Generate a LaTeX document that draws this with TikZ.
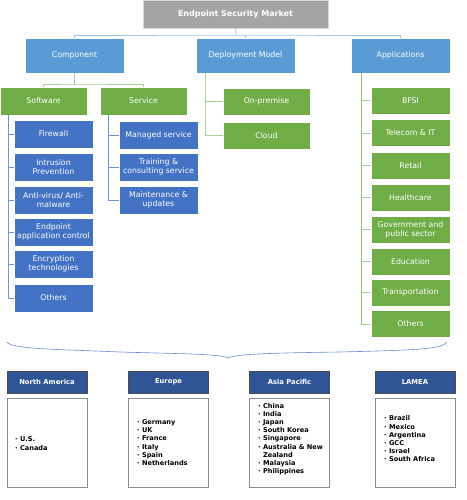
\documentclass[tikz,border=0pt]{standalone}
\usepackage{fontspec}
\newfontfamily\dv{DejaVu Sans}
\definecolor{lblue}{HTML}{5B9BD5}
\definecolor{mblue}{HTML}{4472C4}
\definecolor{dblue}{HTML}{2F5597}
\definecolor{gfill}{HTML}{70AD47}
\definecolor{tgray}{HTML}{A5A5A5}
\definecolor{lnblue}{HTML}{9DC3E6}
\definecolor{lngreen}{HTML}{A9D18E}
\definecolor{lnblue2}{HTML}{6F94D8}
\begin{document}
\begin{tikzpicture}[x=1pt,y=-1pt,
  base/.style={draw=white, line width=0.6pt, text=white, align=center, inner sep=0pt,
    font=\dv\fontsize{7.8}{9}\selectfont},
  titlebox/.style={base, fill=tgray, draw=black!15, minimum width=185pt, minimum height=28pt,
    font=\dv\bfseries\fontsize{8}{9}\selectfont},
  lvltwo/.style={base, fill=lblue, minimum width=99pt, minimum height=35pt},
  grn/.style={base, fill=gfill, minimum width=87pt, minimum height=28pt},
  appbox/.style={base, fill=gfill, minimum width=79pt, minimum height=27pt},
  bluebox/.style={base, fill=mblue, minimum width=79pt, minimum height=28pt},
  hdr/.style={base, fill=dblue, draw=black!70, minimum width=80pt, minimum height=22pt,
    font=\dv\bfseries\fontsize{6.8}{8}\selectfont},
  listbox/.style={draw=black!45, line width=0.8pt, fill=white, minimum width=80pt, minimum height=89pt, inner sep=0pt},
  listtxt/.style={anchor=west, align=left, inner sep=0pt, font=\dv\bfseries\fontsize{6.6}{8.2}\selectfont},
  tline/.style={draw=lnblue, line width=0.7pt},
  gline/.style={draw=lngreen, line width=0.7pt},
  aline/.style={draw=gfill!75, line width=0.7pt},
  bline/.style={draw=lnblue2, line width=0.7pt}
]
\useasboundingbox (0,0) rectangle (466,500);

% level 1
\node[titlebox] (title) at (235.5,14) {Endpoint Security Market};
% level 2
\node[lvltwo] (comp) at (74.5,55.5) {Component};
\node[lvltwo] (dep) at (245.5,55.5) {Deployment Model};
\node[lvltwo] (app) at (400.5,55.5) {Applications};

\coordinate (bus) at (236,35);
\draw[tline] (title.south) -- (bus);
\draw[tline] (comp.north) |- (bus) -| (app.north);
\draw[tline] (dep.north) -- (dep.north |- bus);

% component
\node[grn] (sw) at (43.5,101) {Software};
\node[grn] (sv) at (143.5,101) {Service};
\coordinate (cbus) at (74.5,84);
\draw[gline] (comp.south) -- (cbus);
\draw[gline] (sw.north) |- (cbus) -| (sv.north);

% software children
\node[bluebox] (fw) at (53.5,134) {Firewall};
\node[bluebox] (ip) at (53.5,167) {Intrusion\\Prevention};
\node[bluebox] (av) at (53.5,200) {Anti-virus/ Anti-\\malware};
\node[bluebox] (ep) at (53.5,232) {Endpoint\\application control};
\node[bluebox] (en) at (53.5,264) {Encryption\\technologies};
\node[bluebox] (so) at (53.5,298) {Others};
\coordinate (swt) at (8,115);
\foreach \n in {fw,ip,av,ep,en,so} \draw[bline] (swt) |- (\n.west);

% service children
\node[bluebox] (ms) at (158.5,135.5) {Managed service};
\node[bluebox] (tc) at (158.5,167) {Training \&\\consulting service};
\node[bluebox] (mu) at (158.5,200) {Maintenance \&\\updates};
\coordinate (svt) at (108,115);
\foreach \n in {ms,tc,mu} \draw[bline] (svt) |- (\n.west);

% deployment
\node[grn, minimum height=27pt] (onp) at (266.5,101.5) {On-premise};
\node[grn, minimum height=27pt] (cloud) at (266.5,135.5) {Cloud};
\coordinate (dt) at (205,73);
\draw[gline] (dt) |- (onp.west);
\draw[gline] (dt) |- (cloud.west);

% applications
\node[appbox] (a1) at (410.5,100.5) {BFSI};
\node[appbox] (a2) at (410.5,133) {Telecom \& IT};
\node[appbox] (a3) at (410.5,165.5) {Retail};
\node[appbox] (a4) at (410.5,197.5) {Healthcare};
\node[appbox] (a5) at (410.5,229.5) {Government and\\public sector};
\node[appbox] (a6) at (410.5,261.5) {Education};
\node[appbox] (a7) at (410.5,292.5) {Transportation};
\node[appbox] (a8) at (410.5,324) {Others};
\coordinate (at) at (361,73);
\draw[aline] (at) -- (361,324);
\foreach \n in {a1,a2,a3,a4,a5,a6,a7,a8} \draw[gline] (at |- \n.west) -- (\n.west);

% brace
\draw[draw=mblue!80, line width=0.6pt]
  (7,342) .. controls (12,349) and (50,349) .. (120,352)
  .. controls (190,354) and (220,354) .. (228,358)
  .. controls (236,354) and (270,353) .. (340,352)
  .. controls (420,350) and (442,349) .. (447,342);

% regions
\node[hdr] (na) at (47,382) {North America};
\node[hdr] (eu) at (168.5,382) {Europe};
\node[hdr] (ap) at (289.5,382) {Asia Pacific};
\node[hdr] (la) at (415,382) {LAMEA};

\node[listbox] (nab) at (47,442.5) {};
\node[listbox] (eub) at (168.5,442.5) {};
\node[listbox] (apb) at (289.5,442.5) {};
\node[listbox] (lab) at (415,442.5) {};

\node[listtxt] (nal) at (15,443.5) {· U.S.\\· Canada};
\node[listtxt] (eul) at (137,442.5) {· Germany\\· UK\\· France\\· Italy\\· Spain\\· Netherlands};
\node[listtxt] (apl) at (258,439) {· China\\· India\\· Japan\\· South Korea\\· Singapore\\· Australia \& New\\\phantom{· }Zealand\\· Malaysia\\· Philippines};
\node[listtxt] (lal) at (384,439) {· Brazil\\· Mexico\\· Argentina\\· GCC\\· Israel\\· South Africa};
\end{tikzpicture}
\end{document}
